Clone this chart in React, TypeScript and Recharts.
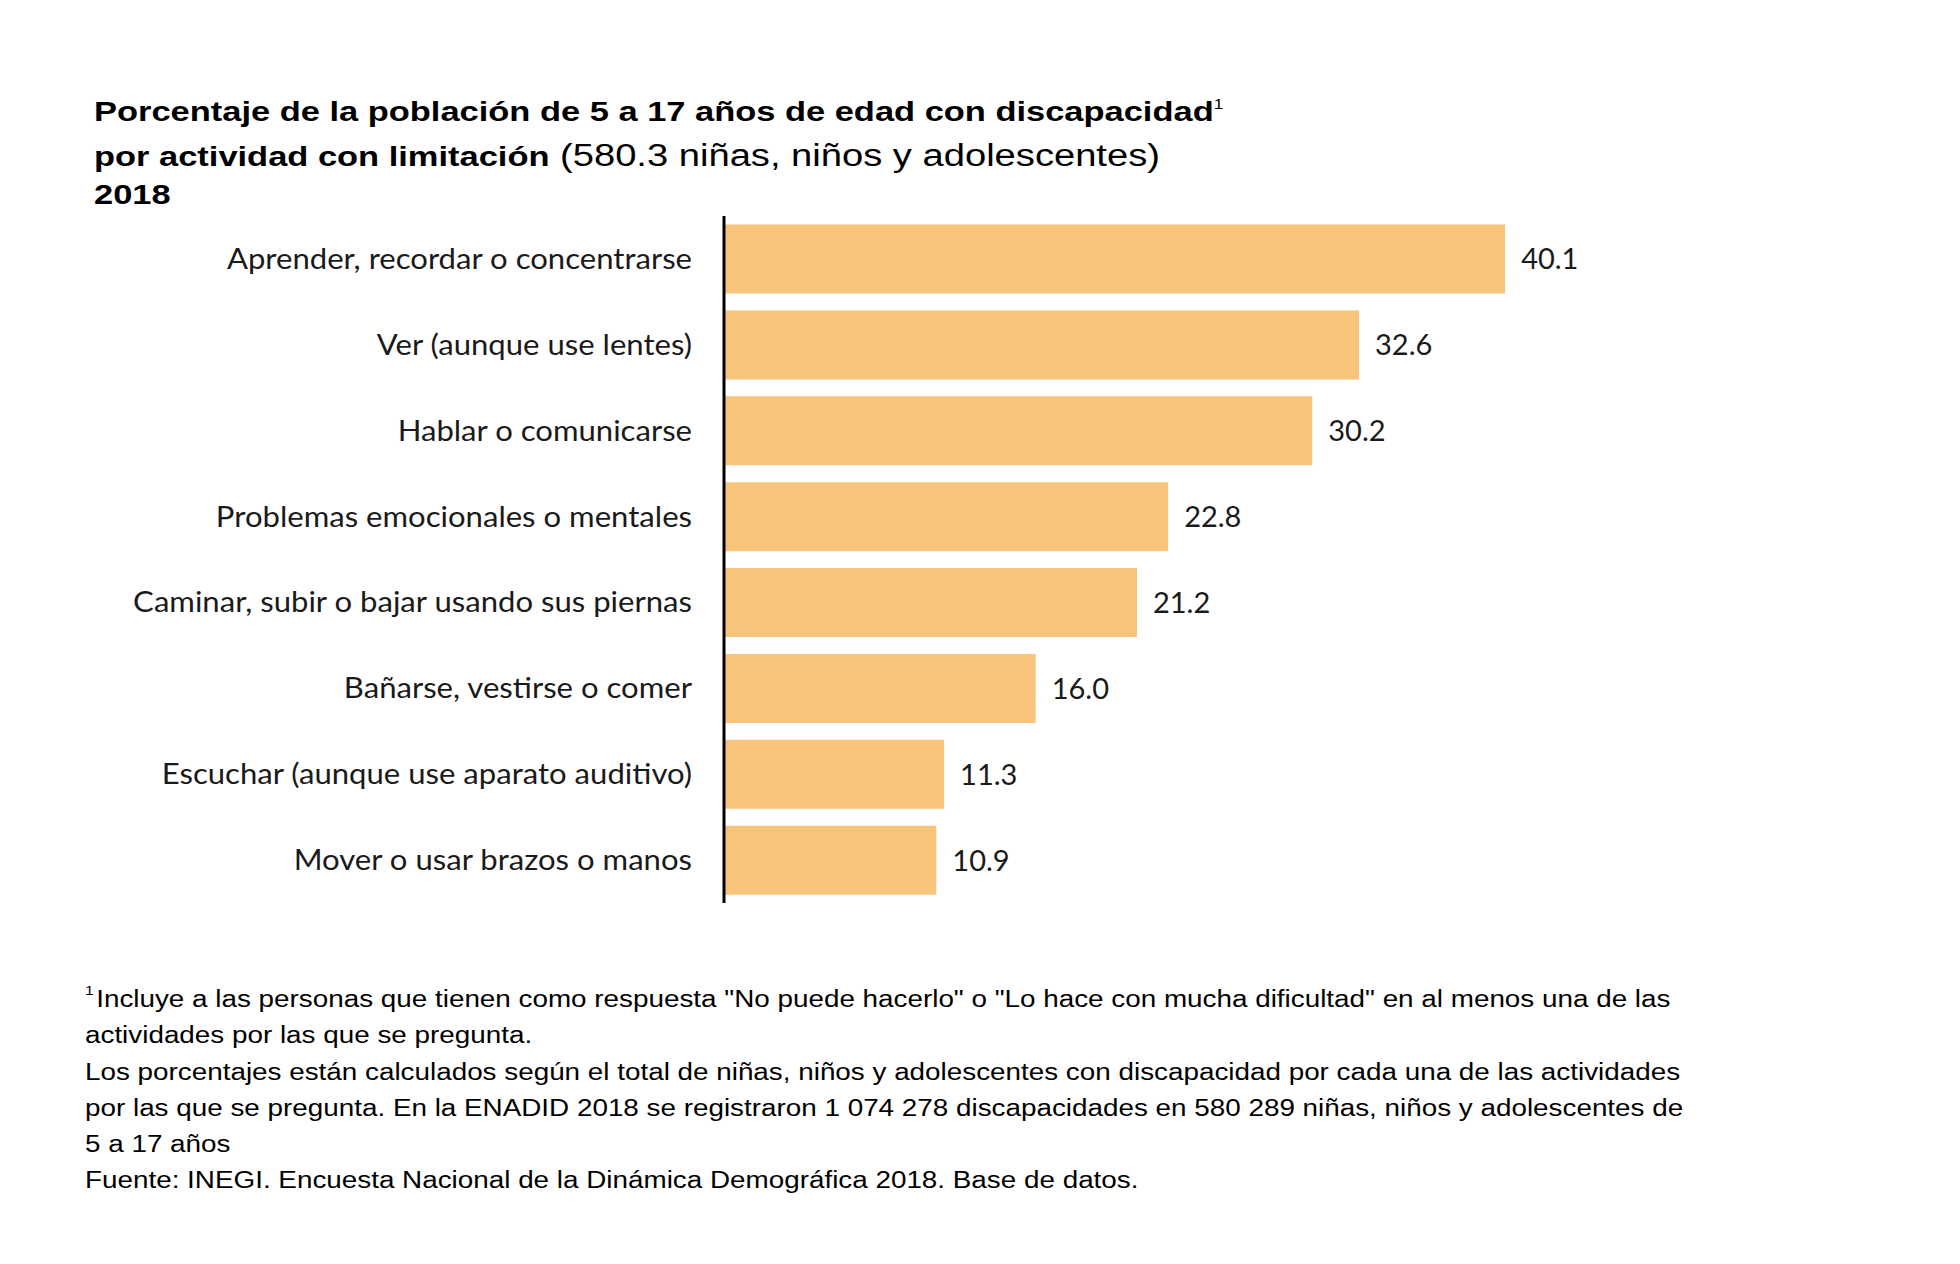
import { BarChart, Bar, XAxis, YAxis, LabelList } from "recharts";

const actividades = [
  "Aprender, recordar o concentrarse",
  "Ver (aunque use lentes)",
  "Hablar o comunicarse",
  "Problemas emocionales o mentales",
  "Caminar, subir o bajar usando sus piernas",
  "Bañarse, vestirse o comer",
  "Escuchar (aunque use aparato auditivo)",
  "Mover o usar brazos o manos",
];

const porcentajes = [40.1, 32.6, 30.2, 22.8, 21.2, 16.0, 11.3, 10.9];

const data = actividades.map((name, i) => ({ name, valor: porcentajes[i] }));

const notas = [
  "actividades por las que se pregunta.",
  "Los porcentajes están calculados según el total de niñas, niños y adolescentes con discapacidad por cada una de las actividades",
  "por las que se pregunta. En la ENADID 2018 se registraron 1 074 278 discapacidades en 580 289 niñas, niños y adolescentes de",
  "5 a 17 años",
  "Fuente: INEGI. Encuesta Nacional de la Dinámica Demográfica 2018. Base de datos.",
];

const arial = "'Liberation Sans', Arial, sans-serif";
const labelFont = "Lato, 'Open Sans', sans-serif";

// el original viene estirado a lo ancho
const stretch = (s: number): React.CSSProperties => ({
  transform: `scaleX(${s})`,
  transformOrigin: "0 50%",
  whiteSpace: "nowrap",
});

const CategoryTick = (props: any) => {
  const { x, y, payload } = props;
  return (
    <g transform={`translate(${x},${y})`}>
      <text
        x={0}
        y={0}
        dy="0.355em"
        textAnchor="end"
        transform="scale(1.11,1)"
        fill="#1a1a1a"
        fontSize={28}
        fontFamily={labelFont}
      >
        {payload.value}
      </text>
    </g>
  );
};

export default function App() {
  return (
    <div style={{ position: "absolute", left: 0, top: 0, width: 1960, height: 1264, background: "#fff" }}>
      {/* titulo */}
      <div style={{ position: "absolute", left: 94, top: 94, fontFamily: arial, fontSize: 28, fontWeight: 700, color: "#000", lineHeight: "36px", ...stretch(1.23) }}>
        Porcentaje de la población de 5 a 17 años de edad con discapacidad
        <sup style={{ fontSize: 14, verticalAlign: "top", fontWeight: 400, lineHeight: "20px" }}>1</sup>
      </div>
      <div style={{ position: "absolute", left: 94, top: 138, fontFamily: arial, fontSize: 31, color: "#000", lineHeight: "36px", ...stretch(1.23) }}>
        <b style={{ fontSize: 28 }}>por actividad con limitación</b> (580.3 niñas, niños y adolescentes)
      </div>
      <div style={{ position: "absolute", left: 94, top: 177, fontFamily: arial, fontSize: 28, fontWeight: 700, color: "#000", lineHeight: "36px", ...stretch(1.23) }}>
        2018
      </div>

      <BarChart
        width={1960}
        height={1264}
        data={data}
        layout="vertical"
        margin={{ top: 216, right: 262, bottom: 361, left: 84 }}
        barCategoryGap="10%"
        style={{ position: "absolute", left: 0, top: 0 }}
      >
        <XAxis type="number" domain={[0, 50]} hide />
        <YAxis
          type="category"
          dataKey="name"
          width={640}
          axisLine={{ stroke: "#000", strokeWidth: 3 }}
          tickLine={false}
          tickMargin={26}
          interval={0}
          tick={<CategoryTick />}
        />
        <Bar dataKey="valor" fill="#F6C47A" isAnimationActive={false}>
          <LabelList
            dataKey="valor"
            position="right"
            offset={16}
            formatter={(v: number) => v.toFixed(1)}
            style={{ fill: "#1a1a1a", fontSize: 29, fontFamily: labelFont }}
          />
        </Bar>
      </BarChart>

      {/* notas */}
      <div style={{ position: "absolute", left: 85, top: 981, fontFamily: arial, fontSize: 23, color: "#000", lineHeight: "36.3px", ...stretch(1.21) }}>
        <div>
          <sup style={{ fontSize: 13, verticalAlign: "top", marginRight: 2, lineHeight: "20px" }}>1</sup>
          Incluye a las personas que tienen como respuesta "No puede hacerlo" o "Lo hace con mucha dificultad" en al menos una de las
        </div>
        {notas.map((t) => (
          <div key={t}>{t}</div>
        ))}
      </div>
    </div>
  );
}
